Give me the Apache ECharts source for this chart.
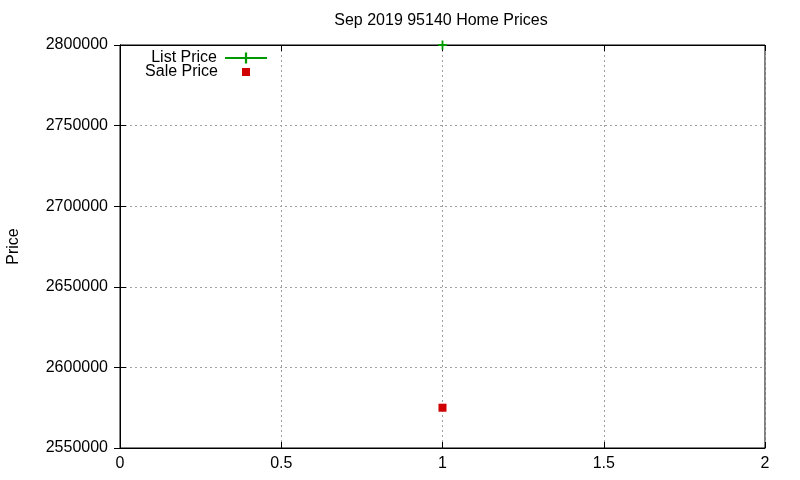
<!DOCTYPE html>
<html>
<head>
<meta charset="utf-8">
<script src="https://cdn.jsdelivr.net/npm/echarts@6/dist/echarts.min.js"></script>
<style>
  html, body { margin: 0; padding: 0; background: #fff; }
  #chart { width: 800px; height: 480px; }
</style>
</head>
<body>
<div id="chart"></div>
<script>
// chart data
var titleText = 'Sep 2019 95140 Home Prices';
var seriesNames = ['List Price', 'Sale Price'];
var listPrice = [[1, 2800000]];
var salePrice = [[1, 2575000]];
var xTicks = { min: 0, max: 2, interval: 0.5 };
var yTicks = { min: 2550000, max: 2800000, interval: 50000 };

var font = 'Liberation Sans, Arial, sans-serif';
var green = '#009a00';
var red = '#d00000';
var plusPath = 'path://M4,0 L6,0 L6,4 L10,4 L10,6 L6,6 L6,10 L4,10 L4,6 L0,6 L0,4 L4,4 Z';

var chart = echarts.init(document.getElementById('chart'), null, { renderer: 'canvas' });

var tickInside = { show: true, inside: true, length: 6, lineStyle: { color: '#000' } };
var dotted = { show: true, lineStyle: { color: '#a0a0a0', type: [2, 3], width: 1 } };

chart.setOption({
    animation: false,
    backgroundColor: '#fff',
    textStyle: { fontFamily: font },
    title: {
        text: titleText,
        left: 441, top: 13,
        padding: 0,
        textAlign: 'center',
        textStyle: { fontSize: 16, fontWeight: 'normal', color: '#000', fontFamily: font }
    },
    grid: {
        left: 120, right: 35, top: 45, bottom: 32,
        show: true, borderColor: '#000', borderWidth: 1,
        containLabel: false,
        outerBoundsMode: 'none'
    },
    legend: [
        {
            data: [seriesNames[0]],
            right: 532, top: 50,
            padding: 0,
            align: 'right',
            itemWidth: 42, itemHeight: 14,
            textStyle: { fontSize: 16, color: '#000', fontFamily: font, padding: [0, 3, 0, 0] }
        },
        {
            data: [{ name: seriesNames[1], itemStyle: { color: red, opacity: 1 } }],
            right: 550, top: 64,
            padding: 0,
            align: 'right',
            itemWidth: 8, itemHeight: 8,
            textStyle: { fontSize: 16, color: '#000', fontFamily: font, padding: [0, 19, 0, 0] }
        }
    ],
    xAxis: [
        {
            type: 'value',
            min: xTicks.min, max: xTicks.max, interval: xTicks.interval,
            axisLine: { show: true, lineStyle: { color: '#000' } },
            axisTick: tickInside,
            axisLabel: { fontSize: 16, color: '#000', margin: 8, fontFamily: font },
            splitLine: dotted
        },
        {
            type: 'value', position: 'top',
            min: xTicks.min, max: xTicks.max, interval: xTicks.interval,
            axisLine: { show: true, lineStyle: { color: '#000' } },
            axisTick: tickInside,
            axisLabel: { show: false },
            splitLine: { show: false }
        }
    ],
    yAxis: [
        {
            type: 'value',
            min: yTicks.min, max: yTicks.max, interval: yTicks.interval,
            name: 'Price',
            nameLocation: 'middle',
            nameGap: 98,
            nameTextStyle: { fontSize: 16, color: '#000', fontFamily: font },
            axisLine: { show: true, lineStyle: { color: '#000' } },
            axisTick: tickInside,
            axisLabel: {
                fontSize: 16, color: '#000', margin: 12, fontFamily: font,
                formatter: function (v) { return String(v); }
            },
            splitLine: dotted
        },
        {
            type: 'value', position: 'right',
            min: yTicks.min, max: yTicks.max, interval: yTicks.interval,
            axisLine: { show: true, lineStyle: { color: '#000' } },
            axisTick: tickInside,
            axisLabel: { show: false },
            splitLine: { show: false }
        }
    ],
    series: [
        {
            name: seriesNames[0],
            type: 'line',
            data: listPrice,
            clip: false,
            symbol: plusPath,
            symbolSize: 9,
            showSymbol: true,
            itemStyle: { color: green, opacity: 1 },
            lineStyle: { color: green, width: 2 },
            z: 5
        },
        {
            name: seriesNames[1],
            type: 'scatter',
            data: salePrice,
            clip: false,
            symbol: 'rect',
            symbolSize: 8,
            itemStyle: { color: red, opacity: 1 },
            z: 5
        }
    ]
});
</script>
</body>
</html>
